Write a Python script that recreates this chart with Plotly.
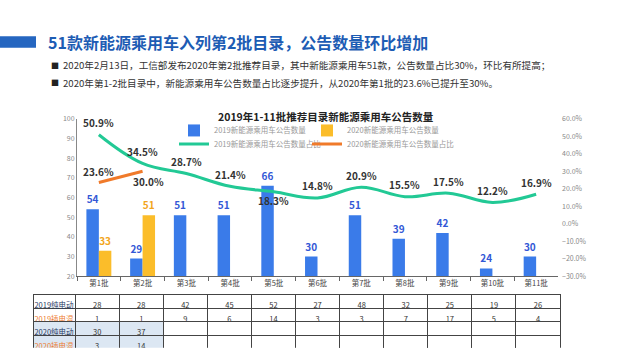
import plotly.graph_objects as go

FONT = "Noto Sans CJK SC"

categories = ["第1批", "第2批", "第3批", "第4批", "第5批", "第6批", "第7批", "第8批", "第9批", "第10批", "第11批"]
count_2019 = [54, 29, 51, 51, 66, 30, 51, 39, 42, 24, 30]
count_2020 = [33, 51, None, None, None, None, None, None, None, None, None]
share_2019 = [50.9, 34.5, 28.7, 21.4, 18.3, 14.8, 20.9, 15.5, 17.5, 12.2, 16.9]
share_2020 = [23.6, 30.0]
share_2019_label_below = [False, False, False, False, True, False, False, False, False, False, False]
share_2020_label_below = [False, True]

table_labels = ["2019纯电动", "2019插电混", "2020纯电动", "2020插电混"]
row_2019_bev = [28, 28, 42, 45, 52, 27, 48, 32, 25, 19, 26]
row_2019_phev = [1, 1, 9, 6, 14, 3, 3, 7, 17, 5, 4]
row_2020_bev = [30, 37]
row_2020_phev = [3, 14]

W, H = 640, 360
def px(x): return x / W
def py(y): return 1 - y / H

BLUE = "#3a7be9"
GOLD = "#fbbd2a"
GREEN = "#22c995"
ORANGE = "#f07a2a"

fig = go.Figure()

fig.add_trace(go.Bar(
    x=categories, y=count_2019, name="2019新能源乘用车公告数量",
    marker=dict(color=BLUE, line=dict(width=0)),
    text=count_2019, textposition="outside",
    textfont=dict(family=FONT, size=10, color="#3358d6", weight=600),
    cliponaxis=False, legend="legend",
))
fig.add_trace(go.Bar(
    x=categories, y=count_2020, name="2020新能源乘用车公告数量",
    marker=dict(color=GOLD, line=dict(width=0)),
    text=[v if v is not None else "" for v in count_2020], textposition="outside",
    textfont=dict(family=FONT, size=10, color="#f2a51c", weight=600),
    cliponaxis=False, legend="legend2",
))
fig.add_trace(go.Scatter(
    x=categories, y=share_2019, yaxis="y2", mode="lines",
    name="2019新能源乘用车公告数量占比",
    line=dict(color=GREEN, width=3, shape="spline", smoothing=1.1),
    legend="legend3",
))
fig.add_trace(go.Scatter(
    x=categories[:len(share_2020)], y=share_2020, yaxis="y2", mode="lines",
    name="2020新能源乘用车公告数量占比",
    line=dict(color=ORANGE, width=3),
    legend="legend4",
))

annotations = []
for c, v, below in zip(categories, share_2019, share_2019_label_below):
    annotations.append(dict(x=c, y=v, xref="x", yref="y2", text=f"{v:.1f}%",
                            showarrow=False, yshift=-9 if below else 12,
                            font=dict(family=FONT, size=10, color="#333", weight=600)))
for c, v, below in zip(categories, share_2020, share_2020_label_below):
    annotations.append(dict(x=c, y=v, xref="x", yref="y2", text=f"{v:.1f}%",
                            showarrow=False, yshift=-10 if below else 11,
                            xshift=6 if below else 0,
                            font=dict(family=FONT, size=10, color="#333", weight=600)))

# chart title
annotations.append(dict(x=px(326), y=py(114), xref="paper", yref="paper", yanchor="middle",
                        text="<b>2019年1-11批推荐目录新能源乘用车公告数量</b>", showarrow=False,
                        font=dict(family=FONT, size=10.5, color="#222")))
# page title
annotations.append(dict(x=px(46), y=py(37), xref="paper", yref="paper", xanchor="left", yanchor="middle",
                        text="<b>51款新能源乘用车入列第2批目录，公告数量环比增加</b>", showarrow=False,
                        font=dict(family=FONT, size=16, color="#1d5cb4")))
bullets = ["2020年2月13日，工信部发布2020年第2批推荐目录，其中新能源乘用车51款，公告数量占比30%，环比有所提高；",
           "2020年第1-2批目录中，新能源乘用车公告数量占比逐步提升，从2020年第1批的23.6%已提升至30%。"]
for i, b in enumerate(bullets):
    yy = 61 + i * 18
    annotations.append(dict(x=px(49), y=py(yy), xref="paper", yref="paper", xanchor="left", yanchor="middle",
                            text="■", showarrow=False, font=dict(family=FONT, size=8, color="#222")))
    annotations.append(dict(x=px(61), y=py(yy), xref="paper", yref="paper", xanchor="left", yanchor="middle",
                            text=b, showarrow=False, font=dict(family=FONT, size=9.6, color="#333")))

# table
n = len(categories)
def pad(row):
    return list(row) + [""] * (n - len(row))
header_vals = [table_labels[0]] + row_2019_bev
rows = [row_2019_phev, pad(row_2020_bev), pad(row_2020_phev)]
cell_vals = [table_labels[1:]] + [[r[i] for r in rows] for i in range(n)]
LIGHT = "#dce7f3"
cell_fill = [["white", LIGHT, LIGHT]] + [["white", LIGHT if i < len(row_2020_bev) else "white",
                                         LIGHT if i < len(row_2020_phev) else "white"] for i in range(n)]
cell_font_color = [["#ee7d31", "#1f3864", "#ee7d31"]] + [["#333"] * 3 for _ in range(n)]
fig.add_trace(go.Table(
    domain=dict(x=[px(33), px(560)], y=[py(352), py(297)]),
    columnwidth=[42] + [44] * n,
    header=dict(values=header_vals, height=13.5, align="center",
                fill=dict(color="white"), line=dict(color="#444", width=1),
                font=dict(family=FONT, size=7.5, color=["#1f3864"] + ["#333"] * n)),
    cells=dict(values=cell_vals, height=13.5, align="center",
               fill=dict(color=cell_fill), line=dict(color="#444", width=1),
               font=dict(family=FONT, size=7.5, color=cell_font_color)),
))

leg_common = dict(xanchor="left", yanchor="middle", orientation="h",
                  font=dict(family=FONT, size=7.5, color="#999"), bgcolor="rgba(0,0,0,0)",
                  itemwidth=30, borderwidth=0)
fig.update_layout(
    width=W, height=H,
    margin=dict(l=0, r=0, t=0, b=0),
    paper_bgcolor="white", plot_bgcolor="white",
    showlegend=True,
    barmode="group", bargap=0.43, bargroupgap=0,
    font=dict(family=FONT, color="#444"),
    annotations=annotations,
    shapes=[dict(type="rect", xref="paper", yref="paper", x0=0, x1=px(36), y0=py(43), y1=py(31),
                 fillcolor="#2566c0", line=dict(width=0))],
    xaxis=dict(domain=[px(77), px(558)], showline=True, linecolor="#666", linewidth=1,
               ticks="outside", tickson="boundaries", ticklen=4, tickcolor="#666",
               tickfont=dict(family=FONT, size=7.5, color="#444"), anchor="y"),
    yaxis=dict(domain=[py(278), py(116)], range=[20, 100], dtick=10, showgrid=False,
               showline=True, linecolor="#888", linewidth=1, zeroline=False,
               tickfont=dict(family=FONT, size=7, color="#888")),
    yaxis2=dict(overlaying="y", side="right", range=[-30, 60], dtick=10, showgrid=False,
                zeroline=False, showline=False, tickformat=".1f", ticksuffix="%",
                tickfont=dict(family=FONT, size=7, color="#888"), ticklabelstandoff=3),
    legend=dict(x=px(174), y=py(128), **leg_common),
    legend2=dict(x=px(307), y=py(128), **leg_common),
    legend3=dict(x=px(174), y=py(142), **leg_common),
    legend4=dict(x=px(307), y=py(142), **leg_common),
)

fig.write_html("out.html", post_script="document.body.style.margin='0px';",
               config={"displayModeBar": False})
